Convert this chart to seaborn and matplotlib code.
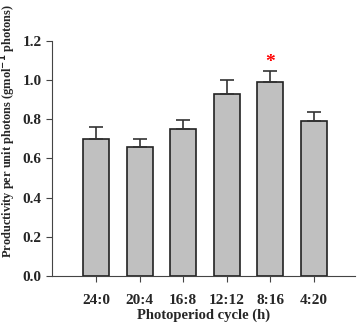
import numpy as np
import pandas as pd
import matplotlib
matplotlib.use('Agg')
import matplotlib.pyplot as plt
import seaborn as sns

# data
cycles = ['24:0', '20:4', '16:8', '12:12', '8:16', '4:20']
productivity = [0.70, 0.66, 0.75, 0.93, 0.99, 0.79]
errors = [0.06, 0.04, 0.045, 0.07, 0.055, 0.045]
star_cycle = '8:16'

sns.set_style('ticks')
plt.rcParams['font.family'] = ['Liberation Serif', 'DejaVu Serif']
plt.rcParams['font.weight'] = 'bold'
plt.rcParams['axes.labelweight'] = 'bold'

df = pd.DataFrame({'cycle': cycles, 'value': productivity})

fig = plt.figure(figsize=(3.59, 3.25), dpi=100)
ax = fig.add_axes([0.145, 0.151, 0.845, 0.723])

sns.barplot(data=df, x='cycle', y='value', color='#c0c0c0', edgecolor='#222222',
            linewidth=1.2, width=0.6, saturation=1, ax=ax)
x = np.arange(len(cycles))
ax.errorbar(x, productivity, yerr=[np.zeros(len(errors)), errors], fmt='none',
            ecolor='#333333', elinewidth=1.2, capsize=5, capthick=1.2)

i = cycles.index(star_cycle)
ax.text(x[i], productivity[i] + errors[i] + 0.045, '*', color='red', ha='center',
        va='center', fontsize=14, fontweight='bold')

ax.set_xlim(-1.01, 5.95)
ax.set_ylim(0, 1.2)
ax.set_yticks(np.arange(0, 1.21, 0.2))
ax.set_yticklabels([f'{v:.1f}' for v in np.arange(0, 1.21, 0.2)])
ax.set_xlabel('Photoperiod cycle (h)', fontsize=10.5, fontweight='bold', labelpad=1)
ax.set_ylabel('Productivity per unit photons (gmol$^{\\mathbf{-1}}$ photons)',
              fontsize=8.9, fontweight='bold', labelpad=4)
ax.yaxis.set_label_coords(-0.112, 0.615)
ax.tick_params(labelsize=11, direction='out', length=4, color='#444444')
ax.tick_params(axis='x', pad=9)
for s in ['top', 'right']:
    ax.spines[s].set_visible(False)
for s in ['left', 'bottom']:
    ax.spines[s].set_color('#444444')
for lab in ax.get_xticklabels() + ax.get_yticklabels():
    lab.set_fontweight('bold')

fig.savefig('out.png', dpi=100)
